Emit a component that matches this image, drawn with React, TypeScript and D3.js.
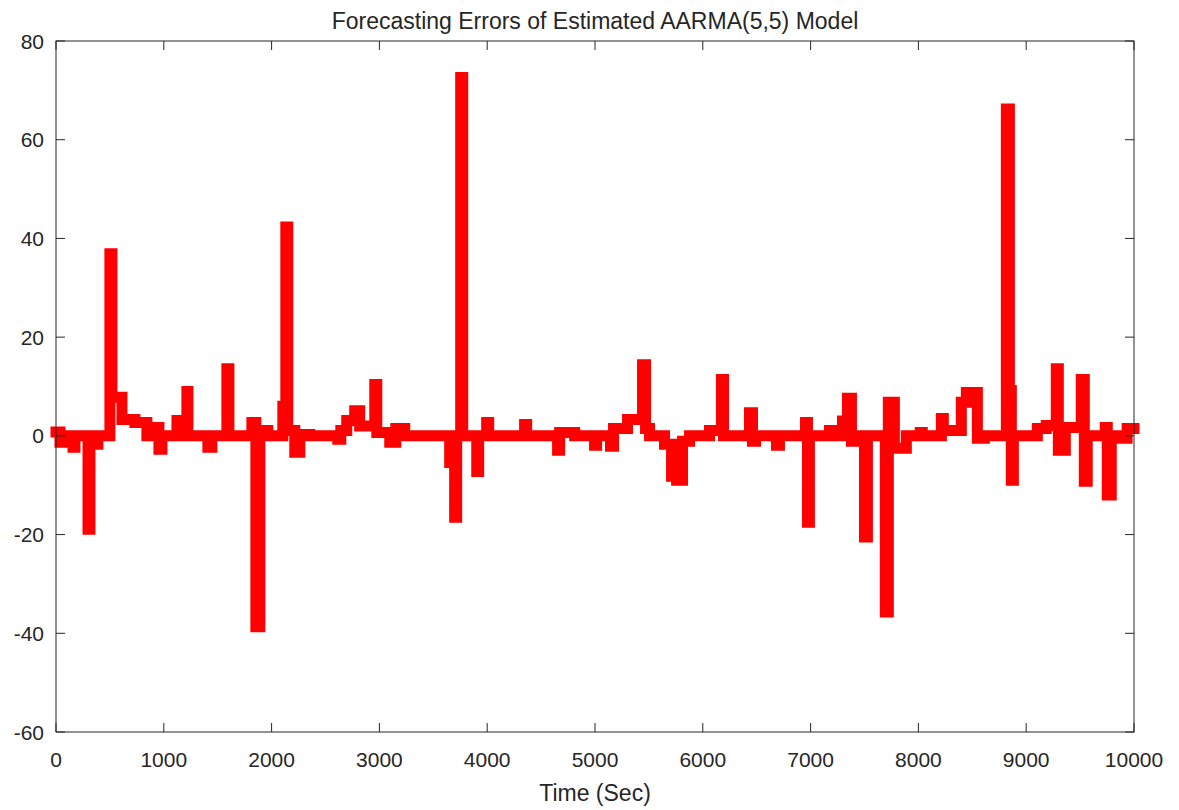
import React, { useEffect, useRef } from "react";
import * as d3 from "d3";

// step breakpoints: error value holds from each time until the next one
const stepTimes = [
  0, 37, 65, 158, 176, 297, 315, 389, 500, 519, 612, 732, 843, 936, 955, 983,
  1122, 1214, 1224, 1409, 1446, 1585, 1604, 1817, 1854, 1891, 1965, 2104, 2132,
  2150, 2215, 2262, 2354, 2614, 2642, 2697, 2771, 2817, 2957, 2976, 3096, 3152,
  3235, 3652, 3698, 3717, 3754, 3773, 3903, 3921, 3995, 4014, 4347, 4366, 4653,
  4672, 4811, 4996, 5015, 5144, 5172, 5302, 5441, 5469, 5506, 5645, 5710, 5757,
  5812, 5877, 6062, 6173, 6192, 6433, 6461, 6489, 6684, 6711, 6953, 6971, 6989,
  7175, 7194, 7296, 7342, 7379, 7407, 7500, 7527, 7693, 7721, 7777, 7888, 8017,
  8036, 8213, 8231, 8398, 8445, 8547, 8612, 8816, 8844, 8862, 8881, 9103, 9186,
  9279, 9298, 9363, 9511, 9539, 9566, 9733, 9752, 9789, 9862, 9936, 10000,
];
const stepValues = [
  0.8, -1.3, 0, -2.3, 0, -18.9, -1.7, 0, 36.9, 7.8, 3.3, 2.7, 0, 1.7, -2.7, 0,
  3.1, 9, 0, -2.3, 0, 13.6, 0, 2.7, -38.7, 1.1, 0, 6, 42.3,
  1.1, -3.3, 0.3, 0, -0.7, 1.1, 3.1, 5.1, 2, 10.4, 0.7, -1.3, 1.5,
  0, -5.4, -16.5, 0, 72.6, 0, -7.2, 0, 2.7, 0, 2.3, 0, -2.9,
  0.7, 0, -1.9, 0, -2.1, 1.5, 3.3, 14.4, 1.5, 0, -1.7, -8.2, -9,
  -1.1, 0, 1.1, 11.4, 0, 4.7, -1.1, 0, -1.9, 0, 2.7, -17.5, 0,
  1.1, 0, 3, 7.6, -1.1, 0, -20.5, 0, -35.7, 6.8, -2.5, 0, 0.7,
  0, 3.5, 1.1, 6.8, 8.8, -0.5, 0, 66.2, 9.2, -9, 0, 1.5, 2.1,
  13.6, -2.9, 1.7, 11.4, -9.2, 0, 1.7, -12, 0, -0.5, 1.5, 1.5,
];

const xTicks = [0, 1000, 2000, 3000, 4000, 5000, 6000, 7000, 8000, 9000, 10000];
const yTicks = [-60, -40, -20, 0, 20, 40, 60, 80];

const chartTitle = "Forecasting Errors of Estimated AARMA(5,5) Model";
const xLabel = "Time (Sec)";

const App = () => {
  const svgRef = useRef<SVGSVGElement>(null);

  useEffect(() => {
    const width = 1179;
    const height = 810;
    const margin = { top: 41, right: 45, bottom: 78, left: 56 };
    const ink = "#262626";
    const font = "'Liberation Sans', Arial, sans-serif";

    const svg = d3.select(svgRef.current);
    svg.selectAll("*").remove();
    svg.attr("width", width).attr("height", height);

    const x = d3.scaleLinear().domain([0, 10000]).range([margin.left, width - margin.right]);
    const y = d3.scaleLinear().domain([-60, 80]).range([height - margin.bottom, margin.top]);

    const [x0, x1] = x.range();
    const [y0, y1] = y.range();

    // the error series
    const data = stepTimes.map((t, i) => [t, stepValues[i]] as [number, number]);
    const line = d3.line<[number, number]>()
      .x(d => x(d[0]))
      .y(d => y(d[1]))
      .curve(d3.curveStepAfter);

    svg.append("path")
      .datum(data)
      .attr("d", line)
      .attr("fill", "none")
      .attr("stroke", "#ff0000")
      .attr("stroke-width", 11)
      .attr("stroke-linejoin", "miter")
      .attr("stroke-linecap", "square");

    // box
    svg.append("rect")
      .attr("x", x0)
      .attr("y", y1)
      .attr("width", x1 - x0)
      .attr("height", y0 - y1)
      .attr("fill", "none")
      .attr("stroke", ink)
      .attr("stroke-width", 1);

    const tickLen = 9;
    const ticks = svg.append("g").attr("stroke", ink).attr("stroke-width", 1);
    xTicks.forEach(t => {
      ticks.append("line").attr("x1", x(t)).attr("x2", x(t)).attr("y1", y0).attr("y2", y0 - tickLen);
      ticks.append("line").attr("x1", x(t)).attr("x2", x(t)).attr("y1", y1).attr("y2", y1 + tickLen);
    });
    yTicks.forEach(v => {
      ticks.append("line").attr("x1", x0).attr("x2", x0 + tickLen).attr("y1", y(v)).attr("y2", y(v));
      ticks.append("line").attr("x1", x1).attr("x2", x1 - tickLen).attr("y1", y(v)).attr("y2", y(v));
    });

    svg.append("g")
      .selectAll("text")
      .data(xTicks)
      .enter()
      .append("text")
      .attr("x", d => x(d))
      .attr("y", y0 + 35)
      .attr("text-anchor", "middle")
      .attr("font-family", font)
      .attr("font-size", 21)
      .attr("fill", ink)
      .text(d => d);

    svg.append("g")
      .selectAll("text")
      .data(yTicks)
      .enter()
      .append("text")
      .attr("x", x0 - 12)
      .attr("y", d => y(d) + 7.5)
      .attr("text-anchor", "end")
      .attr("font-family", font)
      .attr("font-size", 21)
      .attr("fill", ink)
      .text(d => d);

    svg.append("text")
      .attr("x", (x0 + x1) / 2)
      .attr("y", 29)
      .attr("text-anchor", "middle")
      .attr("font-family", font)
      .attr("font-size", 23)
      .attr("fill", ink)
      .text(chartTitle);

    svg.append("text")
      .attr("x", (x0 + x1) / 2)
      .attr("y", 801)
      .attr("text-anchor", "middle")
      .attr("font-family", font)
      .attr("font-size", 23)
      .attr("fill", ink)
      .text(xLabel);
  }, []);

  return (
    <svg
      ref={svgRef}
      style={{ position: "absolute", left: 0, top: 0, background: "#ffffff" }}
    ></svg>
  );
};

export default App;
